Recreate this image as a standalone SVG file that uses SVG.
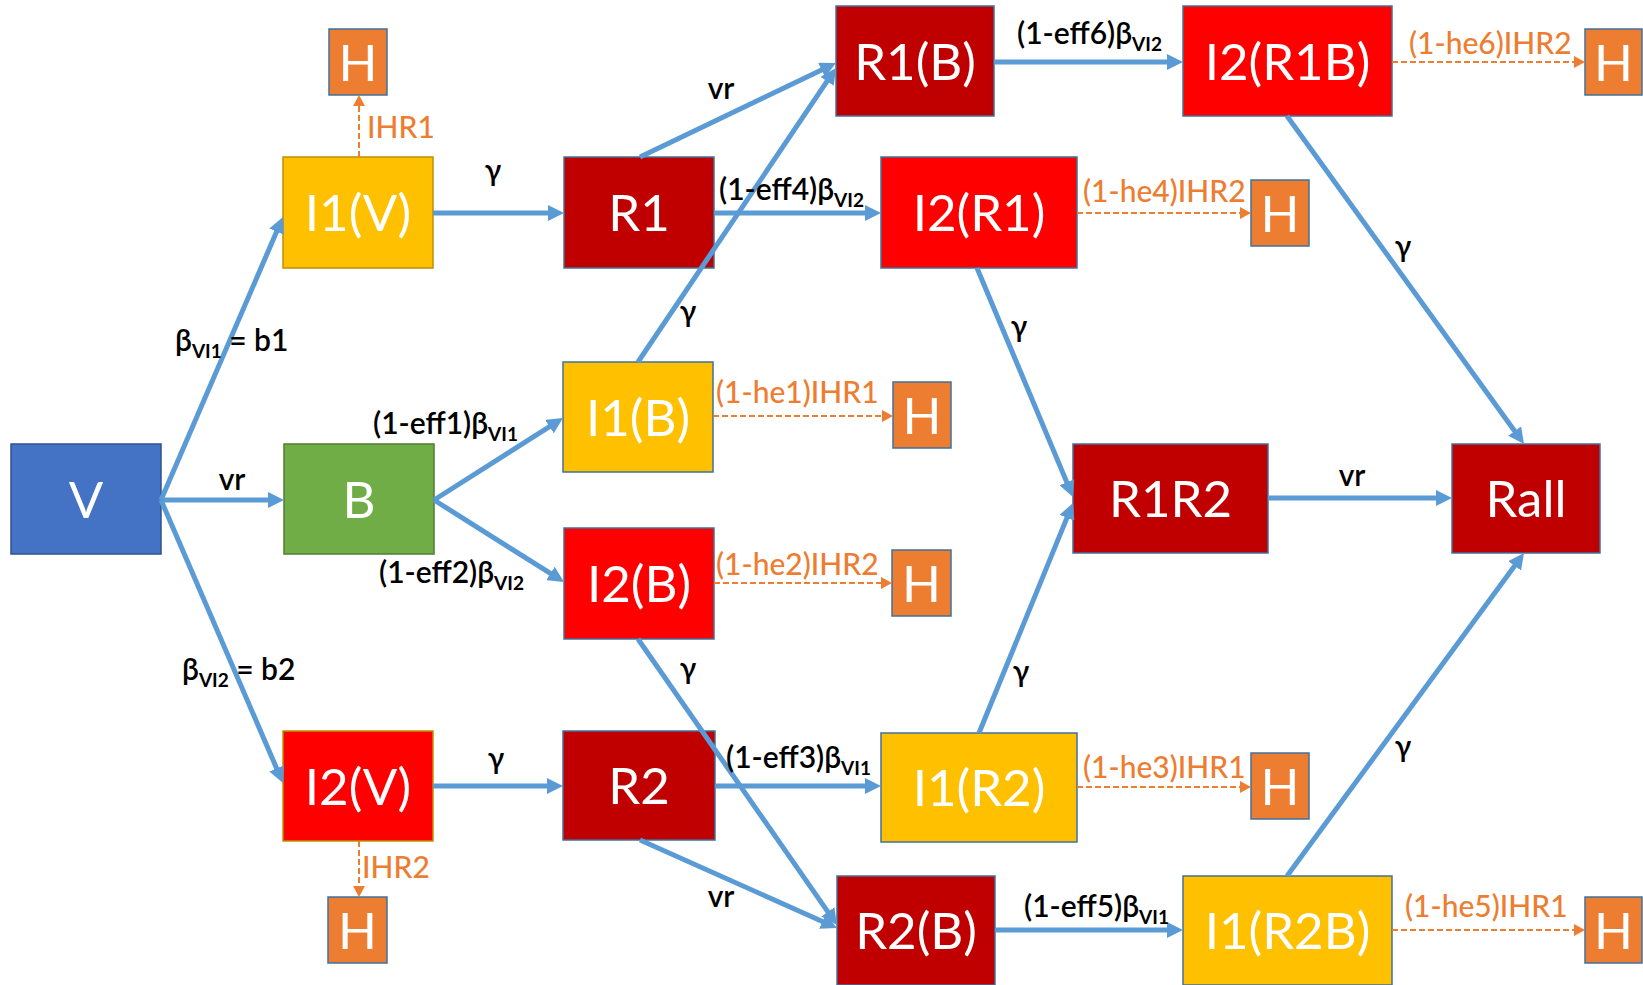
<svg xmlns="http://www.w3.org/2000/svg" width="1643" height="985" viewBox="0 0 1643 985">
<style>
text{font-family:Lato,"Liberation Sans",sans-serif}
.n{stroke:#41719C;stroke-width:1.5}
.nl{fill:#fff;font-size:51px;text-anchor:middle}
.y{fill:#FFC000}.r{fill:#FF0000}.d{fill:#C00000}.h{fill:#ED7D31}
.c{stroke:#5B9BD5;stroke-width:5;fill:none;marker-end:url(#ab)}
.o{stroke:#ED7D31;stroke-width:2;stroke-dasharray:6,3;fill:none;marker-end:url(#ao)}
.bl{fill:#000;font-size:30px;font-weight:600}
.m{text-anchor:middle}
.sb{font-size:19px;font-weight:700}
.ol{fill:#ED7D31;font-size:30px;font-weight:500}
</style>
<defs>
<marker id="ab" markerUnits="userSpaceOnUse" markerWidth="16" markerHeight="16" refX="8" refY="8" orient="auto"><path d="M0,0 L16,8 L0,16 z" fill="#5B9BD5"/></marker>
<marker id="ao" markerUnits="userSpaceOnUse" markerWidth="11" markerHeight="12" refX="7" refY="6" orient="auto"><path d="M0,0 L11,6 L0,12 z" fill="#ED7D31"/></marker>
</defs>
<rect width="1643" height="985" fill="#fff"/>
<g id="nodes">
<g id="V"><rect x="11" y="444" width="150" height="110" fill="#4472C4" stroke="#2F528F" stroke-width="1.5"/><text class="nl" x="86" y="518">V</text></g>
<g id="B"><rect x="284" y="444" width="150" height="110" fill="#70AD47" stroke="#507E32" stroke-width="1.5"/><text class="nl" x="359" y="518">B</text></g>
<g id="I1V"><rect x="283" y="157" width="150" height="111" class="y" stroke="#BF9000" stroke-width="1.5"/><text class="nl" x="358" y="231">I1(V)</text></g>
<g id="I2V"><rect x="283" y="731" width="150" height="110" class="r" stroke="#BF9000" stroke-width="1.5"/><text class="nl" x="358" y="805">I2(V)</text></g>
<g id="H_I1V"><rect x="329" y="29" width="58" height="66" class="n h"/><text class="nl" x="358" y="81">H</text></g>
<g id="H_I2V"><rect x="328" y="897" width="59" height="66" class="n h"/><text class="nl" x="357.5" y="949">H</text></g>
<g id="R1"><rect x="564" y="157" width="150" height="111" class="n d"/><text class="nl" x="639" y="231">R1</text></g>
<g id="I1B"><rect x="563" y="362" width="150" height="110" class="n y"/><text class="nl" x="638" y="436">I1(B)</text></g>
<g id="I2B"><rect x="564" y="528" width="150" height="111" class="n r"/><text class="nl" x="639" y="602">I2(B)</text></g>
<g id="R2"><rect x="563" y="731" width="152" height="109" class="n d"/><text class="nl" x="639" y="804">R2</text></g>
<g id="H_I1B"><rect x="893" y="382" width="58" height="66" class="n h"/><text class="nl" x="922" y="434">H</text></g>
<g id="H_I2B"><rect x="892" y="550" width="59" height="66" class="n h"/><text class="nl" x="921.5" y="602">H</text></g>
<g id="R1B"><rect x="836" y="6" width="158" height="110" class="n d"/><text class="nl" x="915" y="80">R1(B)</text></g>
<g id="I2R1"><rect x="881" y="157" width="196" height="111" class="n r"/><text class="nl" x="979" y="231">I2(R1)</text></g>
<g id="I1R2"><rect x="881" y="733" width="196" height="109" class="n y"/><text class="nl" x="979" y="806">I1(R2)</text></g>
<g id="R2B"><rect x="837" y="876" width="158" height="109" class="n d"/><text class="nl" x="916" y="949">R2(B)</text></g>
<g id="H_I2R1"><rect x="1251" y="180" width="58" height="66" class="n h"/><text class="nl" x="1280" y="232">H</text></g>
<g id="H_I1R2"><rect x="1251" y="753" width="58" height="66" class="n h"/><text class="nl" x="1280" y="805">H</text></g>
<g id="R1R2"><rect x="1073" y="444" width="195" height="109" class="n d"/><text class="nl" x="1170.5" y="517">R1R2</text></g>
<g id="I2R1B"><rect x="1183" y="6" width="209" height="110" class="n r"/><text class="nl" x="1287.5" y="80">I2(R1B)</text></g>
<g id="I1R2B"><rect x="1183" y="876" width="209" height="109" class="n y"/><text class="nl" x="1287.5" y="949">I1(R2B)</text></g>
<g id="H_I2R1B"><rect x="1585" y="29" width="57" height="66" class="n h"/><text class="nl" x="1613.5" y="81">H</text></g>
<g id="H_I1R2B"><rect x="1585" y="897" width="57" height="66" class="n h"/><text class="nl" x="1613.5" y="949">H</text></g>
<g id="Rall"><rect x="1452" y="444" width="148" height="109" class="n d"/><text class="nl" x="1526" y="517">Rall</text></g>
</g>
<g id="connectors">
<path class="c" d="M161,500 L279.8,224.3"/>
<path class="c" d="M161,500 L276,500"/>
<path class="c" d="M161,500 L279.8,775.7"/>
<path class="c" d="M434,500 L556.2,422.3"/>
<path class="c" d="M434,500 L557.2,577.7"/>
<path class="c" d="M433,213 L556,213"/>
<path class="c" d="M433,786 L555,786"/>
<path class="c" d="M714,213 L873,213"/>
<path class="c" d="M640,157 L828.8,66.5"/>
<path class="c" d="M638,362 L831.5,74.6"/>
<path class="c" d="M994,62 L1175,62"/>
<path class="c" d="M715,786 L873,786"/>
<path class="c" d="M640,840 L829.7,924.7"/>
<path class="c" d="M638,639 L832.4,918.4"/>
<path class="c" d="M995,930 L1175,930"/>
<path class="c" d="M977,268 L1069.9,489.6"/>
<path class="c" d="M979,733 L1070,510.4"/>
<path class="c" d="M1268,498 L1444,498"/>
<path class="c" d="M1287,116 L1519.3,437.5"/>
<path class="c" d="M1287,876 L1519.3,559.4"/>
<path class="o" d="M359,157 L359,99"/>
<path class="o" d="M359,841 L359,893"/>
<path class="o" d="M713,416 L889,416"/>
<path class="o" d="M714,583 L888,583"/>
<path class="o" d="M1077,213 L1247,213"/>
<path class="o" d="M1077,787 L1247,787"/>
<path class="o" d="M1392,62 L1581,62"/>
<path class="o" d="M1392,930 L1581,930"/>
<g id="labels">
<text class="bl" x="175" y="351">β<tspan class="sb" dy="7">VI1</tspan><tspan dy="-7"> = b1</tspan></text>
<text class="bl" x="182" y="680">β<tspan class="sb" dy="7">VI2</tspan><tspan dy="-7"> = b2</tspan></text>
<text class="bl m" x="232" y="490">vr</text>
<text class="bl" x="373" y="434">(1-eff1)β<tspan class="sb" dy="7">VI1</tspan></text>
<text class="bl" x="379" y="583">(1-eff2)β<tspan class="sb" dy="7">VI2</tspan></text>
<text class="bl m" x="493" y="181">γ</text>
<text class="bl m" x="721" y="99">vr</text>
<text class="bl" x="719" y="200">(1-eff4)β<tspan class="sb" dy="7">VI2</tspan></text>
<text class="bl m" x="688" y="322">γ</text>
<text class="bl" x="1017" y="44">(1-eff6)β<tspan class="sb" dy="7">VI2</tspan></text>
<text class="bl m" x="1019" y="337">γ</text>
<text class="bl m" x="1403" y="257">γ</text>
<text class="bl m" x="1352" y="486">vr</text>
<text class="bl m" x="496" y="769">γ</text>
<text class="bl m" x="688" y="679">γ</text>
<text class="bl" x="726" y="768">(1-eff3)β<tspan class="sb" dy="7">VI1</tspan></text>
<text class="bl m" x="1021" y="682">γ</text>
<text class="bl m" x="721" y="907">vr</text>
<text class="bl" x="1024" y="917">(1-eff5)β<tspan class="sb" dy="7">VI1</tspan></text>
<text class="bl m" x="1403" y="757">γ</text>
<text class="ol" x="367" y="138">IHR1</text>
<text class="ol" x="362" y="878">IHR2</text>
<text class="ol" x="716" y="403">(1-he1)IHR1</text>
<text class="ol" x="716" y="575">(1-he2)IHR2</text>
<text class="ol" x="1083" y="202">(1-he4)IHR2</text>
<text class="ol" x="1083" y="778">(1-he3)IHR1</text>
<text class="ol" x="1409" y="54">(1-he6)IHR2</text>
<text class="ol" x="1405" y="917">(1-he5)IHR1</text>
</g>
</g>
</svg>
